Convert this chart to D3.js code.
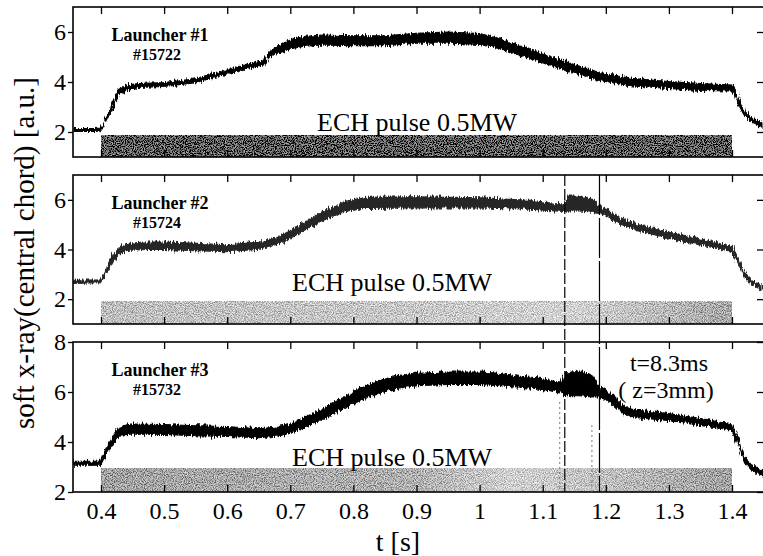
<!DOCTYPE html>
<html><head><meta charset="utf-8">
<script src="https://cdn.jsdelivr.net/npm/d3@7"></script>
<style>
html,body{margin:0;padding:0;background:#fff;}
svg{display:block;}
text{font-family:"Liberation Serif","Times New Roman",serif;}
</style></head>
<body>
<script>
// ---------- data ----------
const tTicks = [0.4,0.5,0.6,0.7,0.8,0.9,1.0,1.1,1.2,1.3,1.4];
const tTickLabels = ["0.4","0.5","0.6","0.7","0.8","0.9","1","1.1","1.2","1.3","1.4"];

const launcherNames = ["Launcher #1","Launcher #2","Launcher #3"];
const shotNames = ["#15722","#15724","#15732"];
const yTickValues = [[2,4,6],[2,4,6],[2,4,6,8]];
const pulseLabel = "ECH pulse 0.5MW";
const pulseStart = 0.4, pulseEnd = 1.4;
const pulseTop = [1.88, 1.89, 2.96];
const markerTimes = [1.135, 1.19];
const faintTimes = [1.127, 1.178];

// Launcher #1 (#15722): time, mean signal, noise half-width
const t1 =      [0.356,0.39,0.40,0.41,0.42,0.43,0.44,0.46,0.50,0.55,0.60,0.63,0.66,0.665,0.68,0.70,0.72,0.75,0.80,0.85,0.90,0.95,1.00,1.03,1.06,1.09,1.14,1.19,1.24,1.30,1.35,1.40,1.405,1.41,1.42,1.43,1.449];
const mid1 =    [2.08,2.08,2.10,2.60,3.20,3.60,3.78,3.86,3.90,4.05,4.40,4.62,4.78,5.05,5.30,5.50,5.62,5.68,5.65,5.65,5.75,5.78,5.72,5.55,5.30,5.05,4.60,4.22,4.00,3.88,3.80,3.76,3.60,3.25,2.75,2.50,2.28];
const spread1 = [0.06,0.06,0.06,0.08,0.10,0.10,0.10,0.08,0.08,0.08,0.08,0.08,0.08,0.10,0.14,0.18,0.20,0.20,0.20,0.20,0.20,0.22,0.22,0.20,0.20,0.18,0.18,0.16,0.15,0.14,0.14,0.12,0.10,0.08,0.08,0.08,0.08];

// Launcher #2 (#15724)
const t2 =      [0.356,0.40,0.41,0.42,0.43,0.44,0.47,0.50,0.55,0.60,0.65,0.68,0.70,0.73,0.76,0.79,0.82,0.90,1.00,1.08,1.12,1.135,1.14,1.16,1.18,1.19,1.20,1.22,1.25,1.30,1.35,1.40,1.41,1.42,1.43,1.449];
const mid2 =    [2.70,2.72,3.20,3.70,3.95,4.10,4.15,4.15,4.10,4.05,4.15,4.35,4.60,5.05,5.45,5.75,5.88,5.90,5.88,5.80,5.70,5.68,5.85,5.85,5.75,5.60,5.50,5.20,4.88,4.58,4.30,4.02,3.55,2.95,2.70,2.45];
const spread2 = [0.06,0.06,0.10,0.12,0.12,0.14,0.15,0.15,0.15,0.14,0.14,0.14,0.15,0.16,0.18,0.20,0.22,0.22,0.20,0.18,0.15,0.15,0.30,0.30,0.26,0.15,0.12,0.12,0.12,0.12,0.12,0.10,0.10,0.08,0.08,0.08];

// Launcher #3 (#15732)
const t3 =      [0.356,0.40,0.41,0.42,0.43,0.45,0.50,0.55,0.60,0.65,0.68,0.70,0.72,0.75,0.78,0.81,0.84,0.87,0.90,0.95,1.00,1.03,1.06,1.09,1.12,1.13,1.135,1.16,1.18,1.19,1.21,1.23,1.25,1.30,1.35,1.40,1.41,1.42,1.43,1.449];
const mid3 =    [3.15,3.15,3.70,4.10,4.45,4.52,4.50,4.45,4.42,4.35,4.42,4.55,4.75,5.10,5.50,5.90,6.20,6.40,6.50,6.55,6.55,6.50,6.42,6.35,6.22,6.20,6.30,6.35,6.20,6.00,5.72,5.25,5.12,5.00,4.80,4.60,4.00,3.30,3.00,2.75];
const spread3 = [0.08,0.08,0.12,0.15,0.18,0.20,0.20,0.20,0.20,0.18,0.18,0.20,0.20,0.22,0.22,0.25,0.25,0.25,0.25,0.25,0.25,0.25,0.22,0.22,0.20,0.20,0.45,0.50,0.40,0.20,0.15,0.15,0.15,0.14,0.14,0.12,0.10,0.10,0.10,0.10];

const seriesT = [t1,t2,t3], seriesM = [mid1,mid2,mid3], seriesS = [spread1,spread2,spread3];

// ---------- layout / style ----------
const W = 763, H = 556;
const frameL = 73, frameR = 764;
const panelTop = [7,175,342], panelBottom = [157,324,492];
const yDomains = [[1,7],[1,7],[2,8]];
const traceColor = ["#000","#262626","#000"];
const FONT = '"Liberation Serif","Times New Roman",serif';

const svg = d3.select("body").append("svg").attr("width",W).attr("height",H);
const defs = svg.append("defs");

// jagged trace filter
const fj = defs.append("filter").attr("id","jag").attr("x","-2%").attr("y","-30%").attr("width","104%").attr("height","160%");
fj.append("feTurbulence").attr("type","fractalNoise").attr("baseFrequency","0.7 0.06").attr("numOctaves",2).attr("seed",4).attr("result","t");
fj.append("feDisplacementMap").attr("in","SourceGraphic").attr("in2","t").attr("scale",7).attr("xChannelSelector","R").attr("yChannelSelector","G");

// stipple filter for pulse bars
const fs = defs.append("filter").attr("id","stip").attr("x",0).attr("y",0).attr("width","100%").attr("height","100%");
fs.append("feTurbulence").attr("type","fractalNoise").attr("baseFrequency","0.9").attr("numOctaves",2).attr("seed",7).attr("result","n");
fs.append("feColorMatrix").attr("in","n").attr("type","matrix")
  .attr("values","2.6 0 0 0 -0.8  2.6 0 0 0 -0.8  2.6 0 0 0 -0.8  0 0 0 0 1").attr("result","g");
fs.append("feComposite").attr("in","g").attr("in2","SourceGraphic").attr("operator","arithmetic")
  .attr("k1",0).attr("k2",0.55).attr("k3",1).attr("k4",-0.27);

// bar gradients
const gradStops = [
  [[0,"#5a5a5a"],[1,"#5a5a5a"]],
  [[0,"#bdbdbd"],[0.5,"#c8c8c8"],[0.75,"#d2d2d2"],[1,"#a6a6a6"]],
  [[0,"#a2a2a2"],[0.5,"#b0b0b0"],[0.65,"#d0d0d0"],[0.8,"#c0c0c0"],[1,"#a0a0a0"]]
];
gradStops.forEach((st,i)=>{
  const g = defs.append("linearGradient").attr("id","bg"+i).attr("x1",0).attr("x2",1).attr("y1",0).attr("y2",0);
  st.forEach(s=>g.append("stop").attr("offset",s[0]).attr("stop-color",s[1]));
});

const x = d3.scaleLinear().domain([0.4,1.4]).range([101,732]);

for (let i=0;i<3;i++){
  const top = panelTop[i], bot = panelBottom[i];
  const y = d3.scaleLinear().domain(yDomains[i]).range([bot, top]);
  const g = svg.append("g");

  defs.append("clipPath").attr("id","clip"+i).append("rect")
    .attr("x",frameL).attr("y",top).attr("width",frameR-frameL).attr("height",bot-top);

  // ECH pulse bar
  g.append("rect")
    .attr("x",x(pulseStart)).attr("width",x(pulseEnd)-x(pulseStart))
    .attr("y",y(pulseTop[i])).attr("height",y(yDomains[i][0])-y(pulseTop[i]))
    .attr("fill","url(#bg"+i+")").attr("filter","url(#stip)");

  // ECH label
  g.append("text").attr("x", i===0 ? 317 : 292).attr("y", [131,291,466][i])
    .attr("font-size",26).attr("fill","#000").text(pulseLabel);

  // trace
  const data = seriesT[i].map((t,k)=>({t, m:seriesM[i][k], s:seriesS[i][k]}));
  const area = d3.area().x(d=>x(d.t)).y0(d=>y(d.m-d.s)).y1(d=>y(d.m+d.s));
  g.append("g").attr("clip-path","url(#clip"+i+")")
    .append("path").datum(data).attr("d",area)
    .attr("fill",traceColor[i]).attr("stroke",traceColor[i]).attr("stroke-width",1.2)
    .attr("filter","url(#jag)");

  // frame
  g.append("rect").attr("x",frameL).attr("y",top).attr("width",frameR-frameL).attr("height",bot-top)
    .attr("fill","none").attr("stroke","#000").attr("stroke-width",1.6);

  // axes
  const axL = g.append("g").attr("transform",`translate(${frameL},0)`)
    .call(d3.axisLeft(y).tickValues(yTickValues[i]).tickSize(5).tickPadding(2).tickFormat(d3.format("d")));
  const axR = g.append("g").attr("transform",`translate(763,0)`)
    .call(d3.axisRight(y).tickValues(yTickValues[i]).tickSize(-6).tickFormat(""));
  const axT = g.append("g").attr("transform",`translate(0,${top})`)
    .call(d3.axisTop(x).tickValues(tTicks).tickSize(-7).tickFormat(""));
  const axB = g.append("g").attr("transform",`translate(0,${bot})`)
    .call(d3.axisBottom(x).tickValues(tTicks).tickSize(-7).tickPadding(10)
      .tickFormat(i===2 ? (d,k)=>tTickLabels[k] : ""));
  [axL,axR,axT,axB].forEach(a=>{
    a.attr("font-family",FONT);
    a.select(".domain").remove();
    a.selectAll("line").attr("stroke","#000").attr("stroke-width",1.3);
    a.selectAll("text").style("font-family",FONT).attr("font-size",24).attr("fill","#000");
  });

  // launcher labels
  g.append("text").attr("x",160).attr("y",top+34).attr("text-anchor","middle")
    .attr("font-size",18).attr("font-weight","bold").text(launcherNames[i]);
  g.append("text").attr("x",157).attr("y",top+53).attr("text-anchor","middle")
    .attr("font-size",16).attr("font-weight","bold").text(shotNames[i]);
}

// vertical marker lines
const ml = svg.append("g");
ml.append("line").attr("x1",x(markerTimes[0])).attr("x2",x(markerTimes[0]))
  .attr("y1",panelTop[1]).attr("y2",panelBottom[2]).attr("stroke","#000").attr("stroke-width",1.2).attr("stroke-dasharray","11,3");
ml.append("line").attr("x1",x(markerTimes[1])).attr("x2",x(markerTimes[1]))
  .attr("y1",panelTop[1]).attr("y2",panelBottom[2]).attr("stroke","#000").attr("stroke-width",1.2).attr("stroke-dasharray","40,3");
faintTimes.forEach((t,k)=>{
  ml.append("line").attr("x1",x(t)).attr("x2",x(t)).attr("y1",[402,425][k]).attr("y2",panelBottom[2])
    .attr("stroke","#777").attr("stroke-width",1).attr("stroke-dasharray","2,3");
});

// annotation
svg.append("text").attr("x",669).attr("y",371).attr("text-anchor","middle").attr("font-size",24).text("t=8.3ms");
svg.append("text").attr("x",666).attr("y",398).attr("text-anchor","middle").attr("font-size",24).text("( z=3mm)");

// axis titles
svg.append("text").attr("x",398).attr("y",551).attr("text-anchor","middle").attr("font-size",28).text("t [s]");
svg.append("text").attr("transform","translate(34,253) rotate(-90)").attr("text-anchor","middle")
  .attr("font-size",29).text("soft x-ray(central chord) [a.u.]");
</script>
</body></html>
